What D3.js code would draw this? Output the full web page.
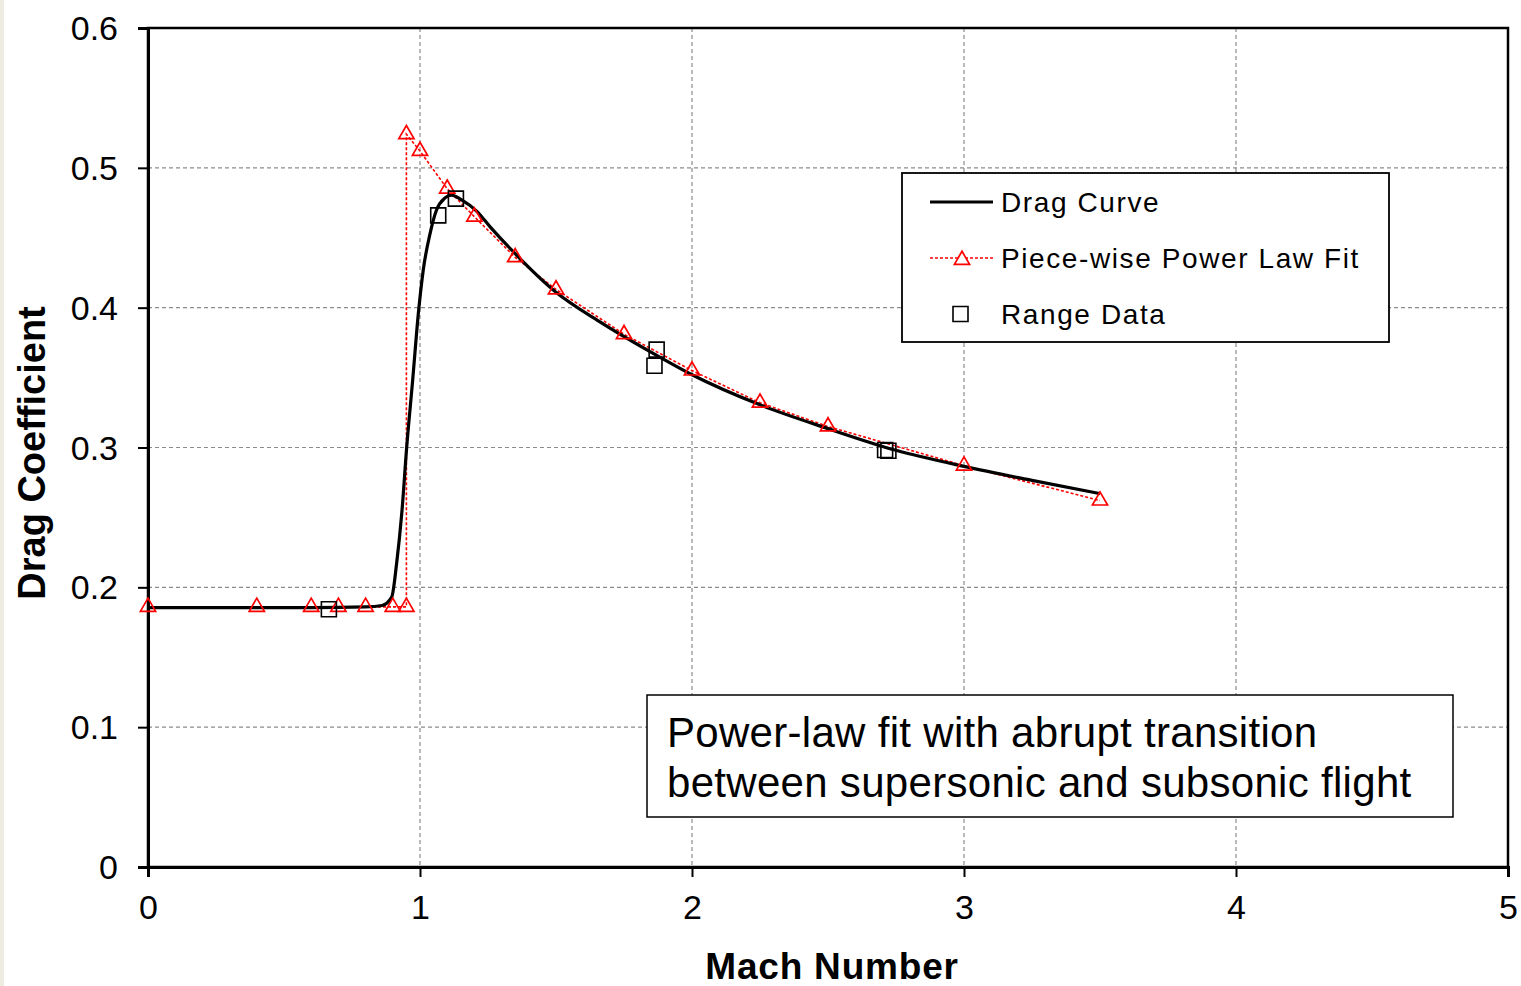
<!DOCTYPE html>
<html>
<head>
<meta charset="utf-8">
<script src="https://cdn.jsdelivr.net/npm/d3@7"></script>
<style>
  html, body { margin: 0; padding: 0; background: #ffffff; }
  svg { display: block; font-family: "Liberation Sans", Arial, sans-serif; }
</style>
</head>
<body>
<svg id="chart" width="1521" height="986"></svg>
<script>
// ---------------- data ----------------
const xTicks = [0, 1, 2, 3, 4, 5];
const xTickLabels = ["0", "1", "2", "3", "4", "5"];
const yTicks = [0, 0.1, 0.2, 0.3, 0.4, 0.5, 0.6];
const yTickLabels = ["0", "0.1", "0.2", "0.3", "0.4", "0.5", "0.6"];

// Drag Curve (smooth black line)
const dragMach = [0, 0.3, 0.6, 0.8, 0.86, 0.896, 0.914, 0.933, 0.951, 0.973, 0.994, 1.012, 1.037, 1.061, 1.092, 1.116, 1.153, 1.208, 1.257, 1.343, 1.5, 1.66, 1.846, 2.0, 2.25, 2.5, 2.75, 3.0, 3.25, 3.5];
const dragCd   = [0.1855, 0.1855, 0.1855, 0.186, 0.187, 0.193, 0.217, 0.253, 0.300, 0.348, 0.396, 0.427, 0.453, 0.470, 0.4785, 0.4805, 0.477, 0.469, 0.458, 0.440, 0.411, 0.390, 0.3685, 0.352, 0.3305, 0.3135, 0.298, 0.2865, 0.2765, 0.267];

// Piece-wise Power Law Fit (red dashed with triangles)
const fitMach = [0, 0.4, 0.6, 0.7, 0.8, 0.9, 0.95, 0.95, 1.0, 1.1, 1.2, 1.35, 1.5, 1.75, 2.0, 2.25, 2.5, 3.0, 3.5];
const fitCd   = [0.186, 0.186, 0.186, 0.186, 0.186, 0.186, 0.186, 0.524, 0.512, 0.485, 0.465, 0.436, 0.413, 0.381, 0.355, 0.332, 0.315, 0.287, 0.262];

// Range Data (squares)
const rangeMach = [0.665, 1.067, 1.132, 1.870, 1.862, 2.710, 2.722];
const rangeCd   = [0.1843, 0.466, 0.478, 0.370, 0.3585, 0.2982, 0.2977];

const legendLabels = ["Drag Curve", "Piece-wise Power Law Fit", "Range Data"];
const noteLines = ["Power-law fit with abrupt transition", "between supersonic and subsonic flight"];
const xTitle = "Mach Number";
const yTitle = "Drag Coefficient";

// ---------------- layout ----------------
const svg = d3.select("#chart");
const pLeft = 148, pRight = 1508, pTop = 28, pBottom = 867;
const x = d3.scaleLinear().domain([0, 5]).range([pLeft, pRight]);
const y = d3.scaleLinear().domain([0, 0.6]).range([pBottom, pTop]);

// beige strip on the left edge
svg.append("rect").attr("x", 0).attr("y", 0).attr("width", 4).attr("height", 986).attr("fill", "#eeece1");

// grid
const grid = svg.append("g");
grid.selectAll("line.gx").data(xTicks.filter(d => d > 0 && d < 5)).join("line")
  .attr("class", "gx")
  .attr("x1", d => x(d)).attr("x2", d => x(d)).attr("y1", pTop).attr("y2", pBottom)
  .attr("stroke", "#8c8c8c").attr("stroke-width", 1.2).attr("stroke-dasharray", "4,3");
grid.selectAll("line.gy").data(yTicks.filter(d => d > 0 && d < 0.6)).join("line")
  .attr("class", "gy")
  .attr("y1", d => y(d)).attr("y2", d => y(d)).attr("x1", pLeft).attr("x2", pRight)
  .attr("stroke", "#8c8c8c").attr("stroke-width", 1.2).attr("stroke-dasharray", "4,3");

// frame
svg.append("rect").attr("x", pLeft).attr("y", pTop).attr("width", pRight - pLeft).attr("height", pBottom - pTop)
  .attr("fill", "none").attr("stroke", "#000").attr("stroke-width", 2.5);

// axes
const yAxis = d3.axisLeft(y).tickValues(yTicks).tickFormat((d, i) => yTickLabels[i]).tickSize(10).tickPadding(20);
const gy = svg.append("g").attr("transform", `translate(${pLeft},0)`).call(yAxis);
gy.select(".domain").attr("stroke-width", 3);
gy.selectAll(".tick line").attr("stroke-width", 2);
gy.selectAll(".tick text").attr("font-size", 34).attr("fill", "#000").attr("font-family", "Liberation Sans, Arial, sans-serif").attr("dy", "0.34em");

const xAxis = d3.axisBottom(x).tickValues(xTicks).tickFormat((d, i) => xTickLabels[i]).tickSize(10).tickPadding(18);
const gx = svg.append("g").attr("transform", `translate(0,${pBottom})`).call(xAxis);
gx.select(".domain").attr("stroke-width", 3);
gx.selectAll(".tick line").attr("stroke-width", 2);
gx.selectAll(".tick text").attr("font-size", 34).attr("fill", "#000").attr("font-family", "Liberation Sans, Arial, sans-serif");

// titles
svg.append("text").attr("x", 832).attr("y", 979).attr("text-anchor", "middle")
  .attr("font-size", 37).attr("letter-spacing", 0.8).attr("font-weight", "bold").text(xTitle);
svg.append("text").attr("transform", "translate(45,453) rotate(-90)").attr("text-anchor", "middle")
  .attr("font-size", 38).attr("font-weight", "bold").text(yTitle);

// series
const tri = d3.symbol().type(d3.symbolTriangle).size(100);
const sq = d3.symbol().type(d3.symbolSquare).size(225);

const fitData = fitMach.map((m, i) => [m, fitCd[i]]);
const dragData = dragMach.map((m, i) => [m, dragCd[i]]);
const rangeData = rangeMach.map((m, i) => [m, rangeCd[i]]);

svg.append("path").datum(fitData)
  .attr("d", d3.line().x(d => x(d[0])).y(d => y(d[1])))
  .attr("fill", "none").attr("stroke", "#ff0000").attr("stroke-width", 1.6).attr("stroke-dasharray", "3,2");

svg.append("path").datum(dragData)
  .attr("d", d3.line().x(d => x(d[0])).y(d => y(d[1])).curve(d3.curveMonotoneX))
  .attr("fill", "none").attr("stroke", "#000").attr("stroke-width", 3.2).attr("stroke-linejoin", "round");

svg.append("g").selectAll("path").data(fitData).join("path")
  .attr("transform", d => `translate(${x(d[0])},${y(d[1])})`)
  .attr("d", tri).attr("fill", "none").attr("stroke", "#ff0000").attr("stroke-width", 1.7);

svg.append("g").selectAll("path").data(rangeData).join("path")
  .attr("transform", d => `translate(${x(d[0])},${y(d[1])})`)
  .attr("d", sq).attr("fill", "none").attr("stroke", "#000").attr("stroke-width", 1.6);

// legend
const lg = svg.append("g");
lg.append("rect").attr("x", 902).attr("y", 173).attr("width", 487).attr("height", 169)
  .attr("fill", "#fff").attr("stroke", "#000").attr("stroke-width", 1.8);
const rowY = [202, 258, 314];
lg.append("line").attr("x1", 930).attr("x2", 993).attr("y1", rowY[0]).attr("y2", rowY[0])
  .attr("stroke", "#000").attr("stroke-width", 3.2);
lg.append("line").attr("x1", 930).attr("x2", 993).attr("y1", rowY[1]).attr("y2", rowY[1])
  .attr("stroke", "#ff0000").attr("stroke-width", 1.5).attr("stroke-dasharray", "3,2");
lg.append("path").attr("transform", `translate(962,${rowY[1] + 2})`).attr("d", tri)
  .attr("fill", "#fff").attr("stroke", "#ff0000").attr("stroke-width", 1.7);
lg.append("path").attr("transform", `translate(960.5,${rowY[2]})`).attr("d", sq)
  .attr("fill", "none").attr("stroke", "#000").attr("stroke-width", 1.6);
lg.selectAll("text").data(legendLabels).join("text")
  .attr("x", 1001).attr("y", (d, i) => rowY[i] + 10)
  .attr("font-size", 28).attr("letter-spacing", 1.6).attr("fill", "#000").text(d => d);

// annotation box
const nb = svg.append("g");
nb.append("rect").attr("x", 647).attr("y", 695).attr("width", 806).attr("height", 122)
  .attr("fill", "#fff").attr("stroke", "#000").attr("stroke-width", 1.5);
nb.selectAll("text").data(noteLines).join("text")
  .attr("x", 667).attr("y", (d, i) => 747 + i * 50)
  .attr("font-size", 42).attr("letter-spacing", 0.3).attr("fill", "#000").text(d => d);
</script>
</body>
</html>
